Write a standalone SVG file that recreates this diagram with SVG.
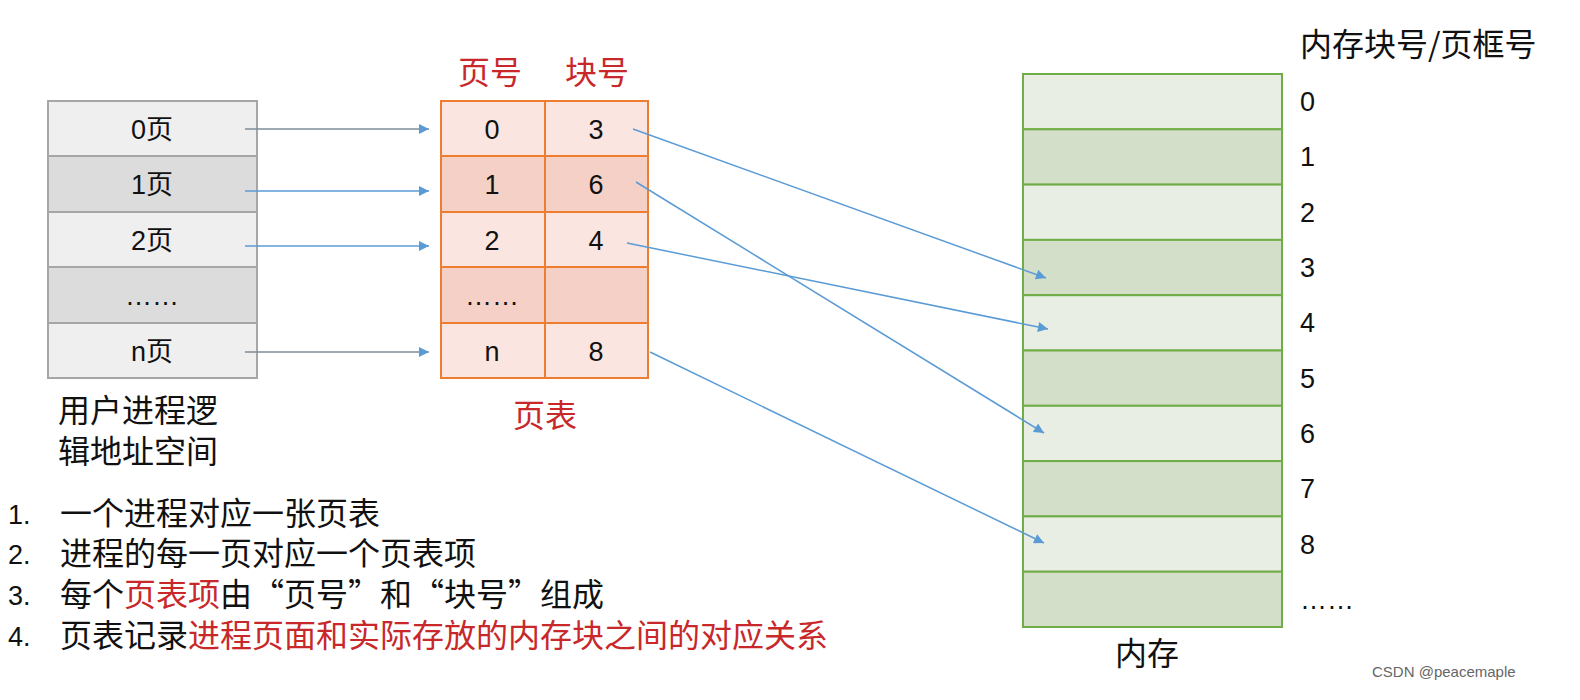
<svg xmlns="http://www.w3.org/2000/svg" width="1580" height="700" viewBox="0 0 1580 700">
<style>
text{font-family:"Liberation Sans","Noto Sans CJK SC",sans-serif;fill:#111;font-size:27px}
.k{font-family:"Noto Sans CJK SC",sans-serif;font-size:32px}
.c{text-anchor:middle}
.r{fill:#c8282a}
.g1{fill:#efefef;stroke:#a6a6a6;stroke-width:2}
.g2{fill:#dcdcdc;stroke:#a6a6a6;stroke-width:2}
.p1{fill:#fbe5e0;stroke:#ed7d31;stroke-width:2}
.p2{fill:#f4d0c6;stroke:#ed7d31;stroke-width:2}
.m1{fill:#e8eee4;stroke:#70ad47;stroke-width:2}
.m2{fill:#d3dfc8;stroke:#70ad47;stroke-width:2}
.a{stroke:#5b9bd5;stroke-width:1.5;fill:none;marker-end:url(#ah)}
.ag{stroke:#7f8c99;stroke-width:1.5;fill:none;marker-end:url(#ah)}
</style>
<defs><marker id="ah" viewBox="0 0 10 10" refX="10" refY="5" markerWidth="12" markerHeight="10" markerUnits="userSpaceOnUse" orient="auto"><path d="M0,0L10,5L0,10z" fill="#5b9bd5"/></marker></defs>
<rect width="1580" height="700" fill="#fff"/>
<g id="logical">
<rect class="g1" x="48" y="101" width="209" height="55"/><text class="c" x="152" y="139">0页</text>
<rect class="g2" x="48" y="156" width="209" height="56"/><text class="c" x="152" y="194">1页</text>
<rect class="g1" x="48" y="212" width="209" height="55"/><text class="c" x="152" y="250">2页</text>
<rect class="g2" x="48" y="267" width="209" height="56"/><text class="c" x="152" y="305">……</text>
<rect class="g1" x="48" y="323" width="209" height="55"/><text class="c" x="152" y="361">n页</text>
<text class="k" x="58" y="422">用户进程逻</text><text class="k" x="58" y="463">辑地址空间</text>
</g>
<g id="pagetable">
<text class="c r k" x="490" y="84">页号</text><text class="c r k" x="597" y="84">块号</text>
<rect class="p1" x="441" y="101" width="104" height="55"/><rect class="p1" x="545" y="101" width="103" height="55"/>
<rect class="p2" x="441" y="156" width="104" height="56"/><rect class="p2" x="545" y="156" width="103" height="56"/>
<rect class="p1" x="441" y="212" width="104" height="55"/><rect class="p1" x="545" y="212" width="103" height="55"/>
<rect class="p2" x="441" y="267" width="104" height="56"/><rect class="p2" x="545" y="267" width="103" height="56"/>
<rect class="p1" x="441" y="323" width="104" height="55"/><rect class="p1" x="545" y="323" width="103" height="55"/>
<text class="c" x="492" y="139">0</text><text class="c" x="596" y="139">3</text>
<text class="c" x="492" y="194">1</text><text class="c" x="596" y="194">6</text>
<text class="c" x="492" y="250">2</text><text class="c" x="596" y="250">4</text>
<text class="c" x="492" y="305">……</text>
<text class="c" x="492" y="361">n</text><text class="c" x="596" y="361">8</text>
<text class="c r k" x="545" y="427">页表</text>
</g>
<g id="memory">
<text class="k" x="1300" y="56">内存块号/页框号</text>
<rect class="m1" x="1023" y="74" width="259" height="55.3"/>
<rect class="m2" x="1023" y="129.3" width="259" height="55.3"/>
<rect class="m1" x="1023" y="184.6" width="259" height="55.3"/>
<rect class="m2" x="1023" y="239.9" width="259" height="55.3"/>
<rect class="m1" x="1023" y="295.2" width="259" height="55.3"/>
<rect class="m2" x="1023" y="350.5" width="259" height="55.3"/>
<rect class="m1" x="1023" y="405.8" width="259" height="55.3"/>
<rect class="m2" x="1023" y="461.1" width="259" height="55.3"/>
<rect class="m1" x="1023" y="516.4" width="259" height="55.3"/>
<rect class="m2" x="1023" y="571.7" width="259" height="55.3"/>
<text x="1300" y="111">0</text><text x="1300" y="166">1</text><text x="1300" y="222">2</text>
<text x="1300" y="277">3</text><text x="1300" y="332">4</text><text x="1300" y="388">5</text>
<text x="1300" y="443">6</text><text x="1300" y="498">7</text><text x="1300" y="554">8</text>
<text x="1300" y="609">……</text>
<text class="c k" x="1147" y="665">内存</text>
</g>
<g id="connectors">
<path class="ag" d="M245,129H429"/>
<path class="a" d="M245,191H429"/>
<path class="a" d="M245,246H429"/>
<path class="ag" d="M245,352H429"/>
<path class="a" d="M633,129L1046,278"/>
<path class="a" d="M636,182L1044,433"/>
<path class="a" d="M627,243L1048,329"/>
<path class="a" d="M650,352L1044,543"/>
</g>
<g id="notes">
<text x="8" y="524">1.</text><text class="k" x="60" y="525">一个进程对应一张页表</text>
<text x="8" y="564">2.</text><text class="k" x="60" y="565">进程的每一页对应一个页表项</text>
<text x="8" y="605">3.</text><text class="k" x="60" y="606">每个<tspan class="r">页表项</tspan>由“页号”和“块号”组成</text>
<text x="8" y="646">4.</text><text class="k" x="60" y="647">页表记录<tspan class="r">进程页面和实际存放的内存块之间的对应关系</tspan></text>
<text x="1372" y="677" style="font-size:15px;fill:#666">CSDN @peacemaple</text>
</g>
</svg>
